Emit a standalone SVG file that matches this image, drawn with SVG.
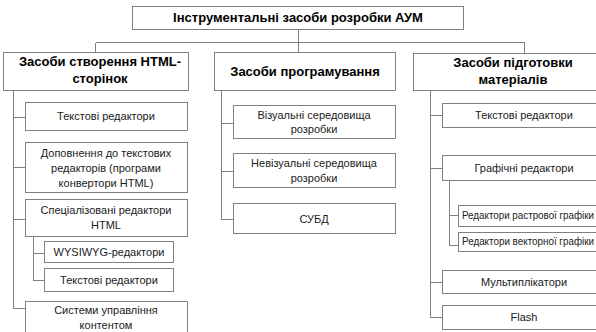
<svg xmlns="http://www.w3.org/2000/svg" width="596" height="332" viewBox="0 0 596 332">
<style>
.box{fill:#fff;stroke:#808080;stroke-width:1}
.ln{fill:none;stroke:#808080;stroke-width:1}
.h{font-family:"Liberation Sans",Arial,sans-serif;font-weight:bold;font-size:13px;fill:#000;text-anchor:middle}
.t{font-family:"Liberation Sans",Arial,sans-serif;font-size:11px;fill:#1a1a1a;text-anchor:middle}
.s{font-family:"Liberation Sans",Arial,sans-serif;font-size:10px;fill:#1a1a1a}
</style>
<rect width="596" height="332" fill="#fff"/>
<g id="connectors" shape-rendering="crispEdges">
<path class="ln" d="M298.5 29V42.5M95.5 42.5H524.5M95.5 42.5V52M298.5 42.5V52M524.5 42.5V53"/>
<path class="ln" d="M13.5 90V308.5M13.5 117.5H25M13.5 167.5H25M13.5 219.5H25M13.5 308.5H25"/>
<path class="ln" d="M33.5 236V280.5M33.5 253.5H44M33.5 280.5H44"/>
<path class="ln" d="M221.5 90V219.5M221.5 123.5H233M221.5 171.5H233M221.5 219.5H233"/>
<path class="ln" d="M430.5 90V317.5M430.5 115.5H442M430.5 168.5H442M430.5 282.5H442M430.5 317.5H442"/>
<path class="ln" d="M449.5 180V245.5M449.5 215.5H458M449.5 245.5H458"/>
</g>
<g id="root" shape-rendering="crispEdges"><rect class="box" x="132.5" y="6.5" width="331" height="23"/></g>
<text class="h" x="298" y="22">Інструментальні засоби розробки АУМ</text>
<g id="html"><rect class="box" x="3.5" y="52.5" width="185" height="38" shape-rendering="crispEdges"/>
<text class="h" x="100" y="66">Засоби створення HTML-</text><text class="h" x="100" y="83">сторінок</text></g>
<g id="prog"><rect class="box" x="214.5" y="52.5" width="181" height="38" shape-rendering="crispEdges"/>
<text class="h" x="305" y="76">Засоби програмування</text></g>
<g id="mat"><rect class="box" x="413.5" y="53.5" width="200" height="37" shape-rendering="crispEdges"/>
<text class="h" x="513" y="67">Засоби підготовки</text><text class="h" x="513" y="84">матеріалів</text></g>
<g shape-rendering="crispEdges">
<g id="l1"><rect class="box" x="25.5" y="102.5" width="162" height="28"/><text class="t" x="106" y="120">Текстові редактори</text></g>
<g id="l2"><rect class="box" x="25.5" y="142.5" width="162" height="50"/><text class="t" x="106" y="157">Доповнення до текстових</text><text class="t" x="106" y="172">редакторів (програми</text><text class="t" x="106" y="187">конвертори HTML)</text></g>
<g id="l3"><rect class="box" x="25.5" y="199.5" width="162" height="37"/><text class="t" x="106" y="214">Спеціалізовані редактори</text><text class="t" x="106" y="229">HTML</text></g>
<g id="l3a"><rect class="box" x="44.5" y="241.5" width="129" height="21"/><text class="t" x="109" y="256">WYSIWYG-редактори</text></g>
<g id="l3b"><rect class="box" x="44.5" y="268.5" width="129" height="23"/><text class="t" x="109" y="284">Текстові редактори</text></g>
<g id="l4"><rect class="box" x="25.5" y="301.5" width="162" height="40"/><text class="t" x="106" y="314">Системи управління</text><text class="t" x="106" y="329">контентом</text></g>
<g id="m1"><rect class="box" x="233.5" y="105.5" width="162" height="33"/><text class="t" x="314" y="119">Візуальні середовища</text><text class="t" x="314" y="133">розробки</text></g>
<g id="m2"><rect class="box" x="233.5" y="153.5" width="162" height="34"/><text class="t" x="314" y="167">Невізуальні середовища</text><text class="t" x="314" y="182">розробки</text></g>
<g id="m3"><rect class="box" x="233.5" y="203.5" width="162" height="30"/><text class="t" x="314" y="223">СУБД</text></g>
<g id="r1"><rect class="box" x="442.5" y="103.5" width="165" height="24"/><text class="t" x="524" y="119">Текстові редактори</text></g>
<g id="r2"><rect class="box" x="442.5" y="155.5" width="165" height="25"/><text class="t" x="524" y="172">Графічні редактори</text></g>
<g id="r2a"><rect class="box" x="458.5" y="205.5" width="160" height="21"/><text class="s" x="462" y="219" textLength="132" lengthAdjust="spacingAndGlyphs">Редактори растрової графіки</text></g>
<g id="r2b"><rect class="box" x="458.5" y="232.5" width="160" height="19"/><text class="s" x="462" y="245" textLength="132" lengthAdjust="spacingAndGlyphs">Редактори векторної графіки</text></g>
<g id="r3"><rect class="box" x="442.5" y="270.5" width="165" height="23"/><text class="t" x="524" y="286">Мультиплікатори</text></g>
<g id="r4"><rect class="box" x="442.5" y="305.5" width="165" height="24"/><text class="t" x="524" y="321">Flash</text></g>
</g>
</svg>
